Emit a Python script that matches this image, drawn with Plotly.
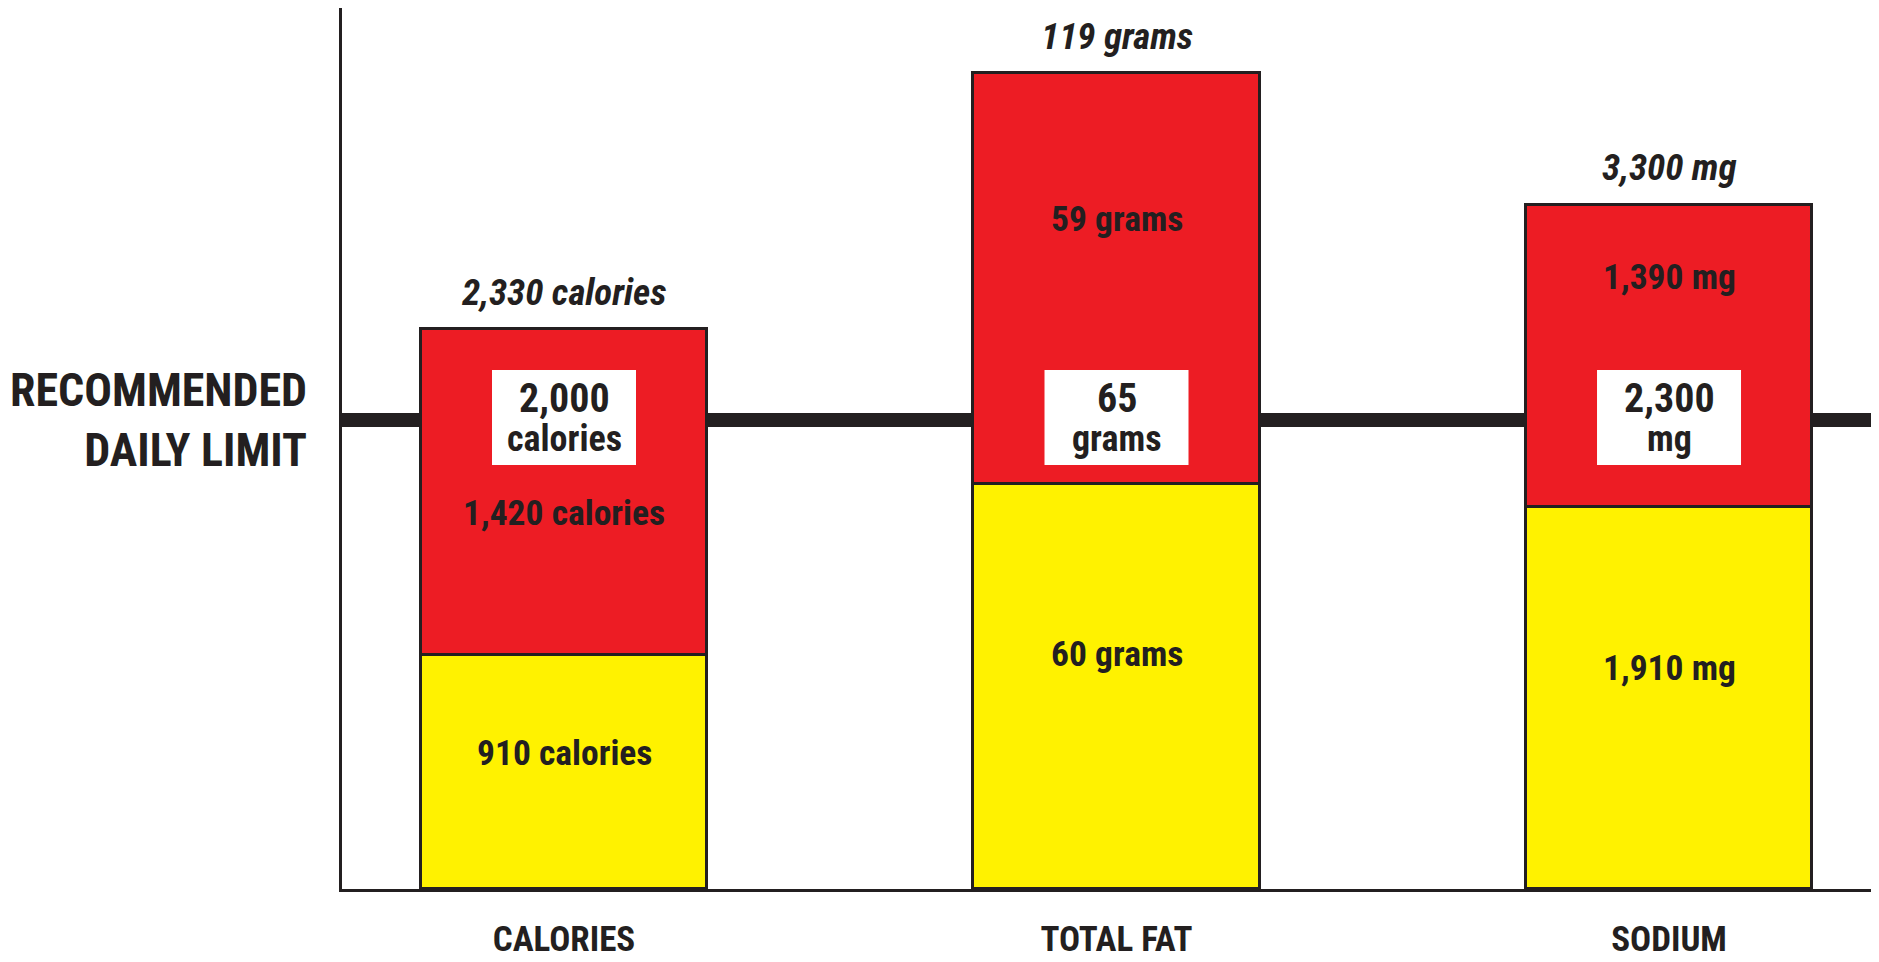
import plotly.graph_objects as go

# ---------------- data (bar heights as drawn, in units of the recommended daily limit) ----------------
categories = ["CALORIES", "TOTAL FAT", "SODIUM"]
base_share = [0.500, 0.863, 0.814]      # yellow segment height
extra_share = [0.694, 0.876, 0.645]     # red segment height
base_labels = ["910 calories", "60 grams", "1,910 mg"]
extra_labels = ["1,420 calories", "59 grams", "1,390 mg"]
total_labels = ["2,330 calories", "119 grams", "3,300 mg"]
limit_values = ["2,000", "65", "2,300"]
limit_units = ["calories", "grams", "mg"]
limit_level = 1.0

# ---------------- style ----------------
RED = "#ED1C24"
YELLOW = "#FFF200"
INK = "#231F20"
FONT = "Liberation Sans Narrow, Arial Narrow, Roboto Condensed, DejaVu Sans Condensed, sans-serif"
red_label_frac = [0.435, 0.646, 0.761]   # where red labels sit inside the red segment
base_label_frac = 0.58

fig = go.Figure()
fig.add_trace(go.Bar(
    x=categories, y=base_share, width=0.518,
    marker=dict(color=YELLOW, line=dict(color=INK, width=3)),
    hoverinfo="skip", showlegend=False,
))
fig.add_trace(go.Bar(
    x=categories, y=extra_share, width=0.518,
    marker=dict(color=RED, line=dict(color=INK, width=3)),
    hoverinfo="skip", showlegend=False,
))

shapes = [dict(
    type="line", xref="paper", yref="y", x0=0, x1=1.001, y0=limit_level, y1=limit_level,
    line=dict(color=INK, width=14), layer="below",
)]
annotations = []

for i, cat in enumerate(categories):
    total = base_share[i] + extra_share[i]
    # white box on limit line
    shapes.append(dict(
        type="rect", xref="x", yref="y",
        xsizemode="pixel", ysizemode="pixel",
        xanchor=i, yanchor=limit_level,
        x0=-72, x1=72, y0=-45, y1=50,
        fillcolor="white", line=dict(width=0), layer="above",
    ))
    annotations.append(dict(
        x=i, y=limit_level, xref="x", yref="y", text=limit_values[i], showarrow=False,
        yshift=22, font=dict(family=FONT, size=40, color=INK, weight="bold"),
    ))
    annotations.append(dict(
        x=i, y=limit_level, xref="x", yref="y", text=limit_units[i], showarrow=False,
        yshift=-19, font=dict(family=FONT, size=36, color=INK, weight="bold"),
    ))
    # top label
    annotations.append(dict(
        x=i, y=total, xref="x", yref="y", text=total_labels[i], showarrow=False,
        yshift=37, font=dict(family=FONT, size=37, color=INK, weight="bold", style="italic"),
    ))
    # red segment label
    annotations.append(dict(
        x=i, y=base_share[i] + extra_share[i] * red_label_frac[i], xref="x", yref="y",
        text=extra_labels[i], showarrow=False,
        font=dict(family=FONT, size=35.5, color=INK, weight="bold"),
    ))
    # yellow segment label
    annotations.append(dict(
        x=i, y=base_share[i] * base_label_frac, xref="x", yref="y",
        text=base_labels[i], showarrow=False,
        font=dict(family=FONT, size=35.5, color=INK, weight="bold"),
    ))

annotations.append(dict(
    x=-0.0215, y=limit_level, xref="paper", yref="y", xanchor="right", yanchor="middle",
    align="right", text="RECOMMENDED<br>DAILY LIMIT", showarrow=False,
    font=dict(family=FONT, size=46, color=INK, weight="bold"),
))

fig.update_layout(
    width=1871, height=954,
    margin=dict(l=334, r=5, t=0, b=73, autoexpand=False),
    barmode="stack", bargap=0,
    plot_bgcolor="white", paper_bgcolor="white",
    shapes=shapes, annotations=annotations,
    xaxis=dict(
        type="category", categoryorder="array", categoryarray=categories,
        range=[-0.4018, 2.371], showline=True, linewidth=3, linecolor=INK,
        showgrid=False, zeroline=False, ticks="", ticklabelstandoff=17,
        tickfont=dict(family=FONT, size=35, color=INK, weight="bold"),
        fixedrange=True, automargin=False,
    ),
    yaxis=dict(
        range=[0, 1.8785], showline=True, linewidth=3, linecolor=INK,
        showgrid=False, zeroline=False, showticklabels=False, ticks="",
        fixedrange=True, automargin=False,
    ),
)

fig.write_html("out.html")
